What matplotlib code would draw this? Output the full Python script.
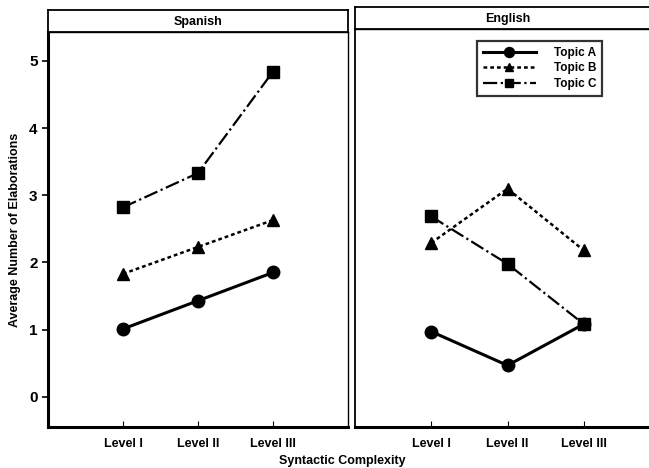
import matplotlib.pyplot as plt

plt.rcParams['font.family'] = ['Liberation Sans', 'DejaVu Sans']

levels = ['Level I', 'Level II', 'Level III']
topics = ['Topic A', 'Topic B', 'Topic C']

# average number of elaborations per level
spanish_a = [1.01, 1.43, 1.85]
spanish_b = [1.83, 2.23, 2.63]
spanish_c = [2.82, 3.33, 4.84]

english_a = [0.96, 0.46, 1.07]
english_b = [2.27, 3.07, 2.16]
english_c = [2.66, 1.96, 1.07]

styles = [dict(ls='-', marker='o', lw=2.2, ms=9),
          dict(ls=(0, (1.5, 1.2)), marker='^', lw=1.8, ms=8),
          dict(ls='-.', marker='s', lw=1.6, ms=8)]

fig = plt.figure(figsize=(6.49, 4.68), dpi=100)
W, H = 649, 468

def px(x0, y0, x1, y1):
    return [x0 / W, 1 - y1 / H, (x1 - x0) / W, (y1 - y0) / H]

ax1 = fig.add_axes(px(48, 32, 348, 427))
ax2 = fig.add_axes(px(355, 29, 660, 427))
s1 = fig.add_axes(px(48, 10, 348, 32))
s2 = fig.add_axes(px(355, 7, 660, 29))

for s, name in [(s1, 'Spanish'), (s2, 'English')]:
    s.set_xticks([])
    s.set_yticks([])
    for sp in s.spines.values():
        sp.set_linewidth(1.3)
    s.text(0.5, 0.45, name, ha='center', va='center', fontsize=9, fontweight='bold', transform=s.transAxes)

x = range(len(levels))
for ax, data in [(ax1, [spanish_a, spanish_b, spanish_c]), (ax2, [english_a, english_b, english_c])]:
    for vals, st, lab in zip(data, styles, topics):
        ax.plot(x, vals, color='black', label=lab, **st)
    ax.set_xlim(-1, 3)
    ax.set_ylim(-0.45, 5.43)
    ax.set_xticks(list(x))
    ax.set_xticklabels(levels, fontsize=9, fontweight='bold')
    ax.tick_params(axis='x', direction='in', length=4, pad=8)
    ax.spines['bottom'].set_linewidth(2.2)
    ax.spines['top'].set_linewidth(1.0)
    ax.spines['right'].set_linewidth(1.0)

ax1.spines['left'].set_linewidth(2.2)
ax1.set_yticks([0, 1, 2, 3, 4, 5])
ax1.set_yticklabels(['0', '1', '2', '3', '4', '5'], fontsize=11, fontweight='bold')
ax1.tick_params(axis='y', direction='out', length=4, width=1.2)
ax1.set_ylabel('Average Number of Elaborations', fontsize=9, fontweight='bold', labelpad=6)
ax2.set_yticks([])
ax2.spines['left'].set_linewidth(1.3)

leg = ax2.legend(loc='upper left', bbox_to_anchor=(0.38, 0.985), frameon=True, fancybox=False,
                 edgecolor='black', handlelength=4.5, handletextpad=1.5, borderpad=0.5,
                 labelspacing=0.3, markerscale=0.8, prop={'weight': 'bold', 'size': 8.5})
leg.get_frame().set_linewidth(1.6)

fig.text(342 / W, 1 - 461 / H, 'Syntactic Complexity', ha='center', va='center', fontsize=9, fontweight='bold')

fig.savefig('out.png', dpi=100)
